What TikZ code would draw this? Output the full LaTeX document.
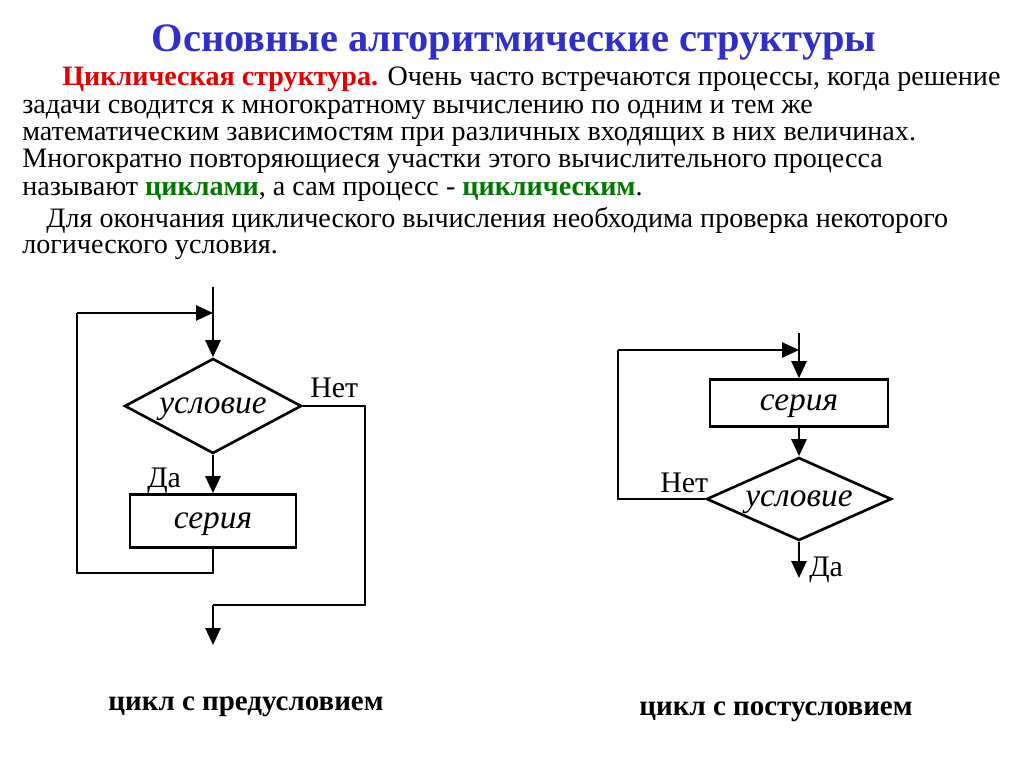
\documentclass[tikz,border=0pt]{standalone}
\usepackage{fontspec}
\setmainfont{Liberation Serif}
\usetikzlibrary{
  arrows.meta,
  shapes.geometric,
  calc,
  positioning
}
\definecolor{titleblue}{RGB}{48,48,200}
\definecolor{termred}{RGB}{228,0,0}
\definecolor{termgreen}{RGB}{0,120,0}
\tikzset{
  flow/.style={line width=1.5pt},
  arr/.style={flow, -{Triangle[length=3.4mm, width=3mm]}},
  serbox/.style={draw, line width=1.5pt, minimum width=3.32cm, minimum height=1.06cm,
    text height=8pt, text depth=0pt,
    font=\fontsize{19}{22}\selectfont\itshape},
  cond/.style={diamond, draw, line width=1.5pt, inner sep=0pt,
    text height=8pt, text depth=0pt,
    font=\fontsize{19}{22}\selectfont\itshape},
  answer/.style={inner sep=0pt, font=\fontsize{17}{19}\selectfont},
  bodyline/.style={anchor=base west, inner sep=0pt, font=\fontsize{16}{18}\selectfont},
  caption/.style={anchor=base, inner sep=0pt, font=\fontsize{16.5}{19}\selectfont\bfseries},
}
\newcommand{\red}[1]{\textbf{\color{termred}#1}}
\newcommand{\grn}[1]{\textbf{\color{termgreen}#1}}

\begin{document}
\begin{tikzpicture}[x=0.02cm, y=-0.02cm]
\useasboundingbox (0,0) rectangle (1024,767);

% title and text
\node[anchor=base, inner sep=0pt, font=\fontsize{23}{27}\selectfont\bfseries, text=titleblue]
  (title) at (514,52) {Основные алгоритмические структуры};
\node[bodyline] (l1) at (62,86) {\red{Циклическая структура.} Очень часто встречаются процессы, когда решение};
\node[bodyline] (l2) at (22,113) {задачи сводится к многократному вычислению по одним и тем же};
\node[bodyline] (l3) at (22,140) {математическим зависимостям при различных входящих в них величинах.};
\node[bodyline] (l4) at (22,167) {Многократно повторяющиеся участки этого вычислительного процесса};
\node[bodyline] (l5) at (22,195) {называют \grn{циклами}, а сам процесс - \grn{циклическим}.};
\node[bodyline] (l6) at (46,227) {Для окончания циклического вычисления необходима проверка некоторого};
\node[bodyline] (l7) at (22,253) {логического условия.};

% loop with precondition
\coordinate (pin) at (213,287);
\coordinate (pjoin) at (213,313);
\node[cond, aspect=1.86, minimum width=3.54cm, minimum height=1.9cm] (pcond) at (213,406) {условие};
\node[serbox] (pser) at (213,521) {серия};
\coordinate (pback1) at (213,573);
\coordinate (pback2) at (77,573);
\coordinate (pback3) at (77,313);
\coordinate (pexit1) at (365,406);
\coordinate (pexit2) at (365,605);
\coordinate (pexit3) at (213,605);
\coordinate (pout) at (213,645);
\draw[flow] (pin) -- (pjoin);
\draw[arr] (pjoin) -- (pcond.north);
\draw[arr] (pcond.south) -- (pser.north);
\draw[flow] (pser.south) -- (pback1) -- (pback2) -- (pback3);
\draw[arr] (pback3) -- (pjoin);
\draw[flow] (pcond.east) -- (pexit1) -- (pexit2) -- (pexit3);
\draw[arr] (pexit3) -- (pout);
\node[answer, anchor=base west] (pno) at (310,397) {Нет};
\node[answer, anchor=base west] (pyes) at (147,487) {Да};
\node[caption] (pcap) at (246,710) {цикл с предусловием};

% loop with postcondition
\coordinate (qin) at (799,333);
\coordinate (qjoin) at (799,350);
\node[serbox, minimum width=3.56cm, minimum height=0.94cm] (qser) at (799,403) {серия};
\node[cond, aspect=2.23, minimum width=3.7cm, minimum height=1.66cm] (qcond) at (799,499) {условие};
\coordinate (qback1) at (618,499);
\coordinate (qback2) at (618,350);
\coordinate (qout) at (799,578);
\draw[flow] (qin) -- (qjoin);
\draw[arr] (qjoin) -- (qser.north);
\draw[arr] (qser.south) -- (qcond.north);
\draw[flow] (qcond.west) -- (qback1) -- (qback2);
\draw[arr] (qback2) -- (qjoin);
\draw[arr] (qcond.south) -- (qout);
\node[answer, anchor=base west] (qno) at (660,492) {Нет};
\node[answer, anchor=base west] (qyes) at (809,576) {Да};
\node[caption] (qcap) at (776,715) {цикл с постусловием};
\end{tikzpicture}
\end{document}
